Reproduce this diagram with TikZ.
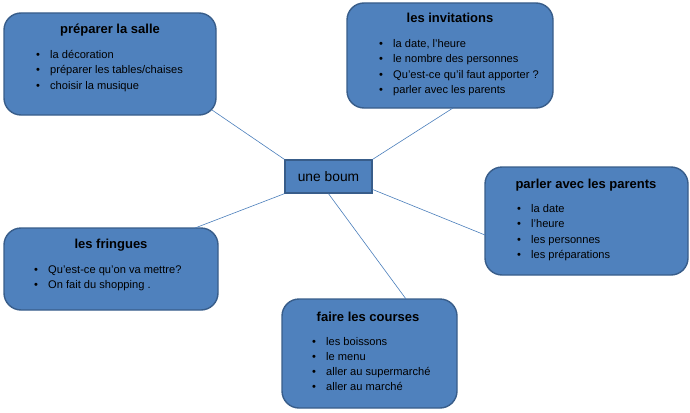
\documentclass[tikz,border=0pt]{standalone}
\usepackage{fontspec}
\setmainfont{Liberation Sans}
\definecolor{boxfill}{HTML}{4F81BD}
\definecolor{boxline}{HTML}{385D8A}
\definecolor{conn}{HTML}{4A7EBB}
\begin{document}
\begin{tikzpicture}[x=1pt,y=-1pt,
  box/.style={draw=boxline,line width=1.4pt,fill=boxfill,rounded corners=17pt,inner sep=0pt},
  centerbox/.style={draw=boxline,line width=1.4pt,fill=boxfill,inner sep=0pt,minimum width=87pt,minimum height=33pt,font=\fontsize{13.8}{16}\selectfont},
  ttl/.style={anchor=base,inner sep=0pt,font=\fontsize{13}{15}\selectfont\bfseries},
  item/.style={anchor=base west,inner sep=0pt,font=\fontsize{11.1}{13}\selectfont},
  conn/.style={draw=conn,line width=0.6pt}]
\useasboundingbox (0,0) rectangle (690,412);
% boxes
\node[box,minimum width=212pt,minimum height=102pt] (salle) at (110,64) {};
\node[box,minimum width=206pt,minimum height=105pt] (invit) at (450,55.5) {};
\node[box,minimum width=203pt,minimum height=108pt] (parler) at (586.5,221) {};
\node[box,minimum width=214pt,minimum height=82pt] (fring) at (111,269) {};
\node[box,minimum width=175pt,minimum height=109pt] (courses) at (369.5,353.5) {};
\node[centerbox] (boum) at (328.5,176.5) {une boum};
% connectors
\coordinate (cs) at (212,110);
\coordinate (ci) at (453,108);
\coordinate (cp) at (485,235);
\coordinate (cf) at (195,228);
\coordinate (cc) at (406,299);
\draw[conn] (boum.north west) -- (cs);
\draw[conn] (boum.north east) -- (ci);
\draw[conn] ([yshift=-13pt]boum.east) -- (cp);
\draw[conn] (boum.south west) -- (cf);
\draw[conn] (boum.south) -- (cc);
% texts: préparer la salle
\node[ttl] (ts) at (110,34) {préparer la salle};
\node[item] (s1) at (36,59) {\makebox[14pt][l]{•}la décoration};
\node[item] (s2) at (36,74) {\makebox[14pt][l]{•}préparer les tables/chaises};
\node[item] (s3) at (36,89) {\makebox[14pt][l]{•}choisir la musique};
% invitations
\node[ttl] (ti) at (450,23) {les invitations};
\node[item] (i1) at (379,48) {\makebox[14pt][l]{•}la date, l'heure};
\node[item] (i2) at (379,63) {\makebox[14pt][l]{•}le nombre des personnes};
\node[item] (i3) at (379,78) {\makebox[14pt][l]{•}Qu'est-ce qu'il faut apporter ?};
\node[item] (i4) at (379,93) {\makebox[14pt][l]{•}parler avec les parents};
% parler
\node[ttl] (tp) at (586,188) {parler avec les parents};
\node[item] (p1) at (517,212) {\makebox[14pt][l]{•}la date};
\node[item] (p2) at (517,227) {\makebox[14pt][l]{•}l'heure};
\node[item] (p3) at (517,243) {\makebox[14pt][l]{•}les personnes};
\node[item] (p4) at (517,258) {\makebox[14pt][l]{•}les préparations};
% fringues
\node[ttl] (tf) at (111,248) {les fringues};
\node[item] (f1) at (34,273) {\makebox[14pt][l]{•}Qu'est-ce qu'on va mettre?};
\node[item] (f2) at (34,288) {\makebox[14pt][l]{•}On fait du shopping .};
% courses
\node[ttl] (tc) at (368,321) {faire les courses};
\node[item] (c1) at (312,345) {\makebox[14pt][l]{•}les boissons};
\node[item] (c2) at (312,360) {\makebox[14pt][l]{•}le menu};
\node[item] (c3) at (312,375) {\makebox[14pt][l]{•}aller au supermarché};
\node[item] (c4) at (312,390) {\makebox[14pt][l]{•}aller au marché};
\end{tikzpicture}
\end{document}
